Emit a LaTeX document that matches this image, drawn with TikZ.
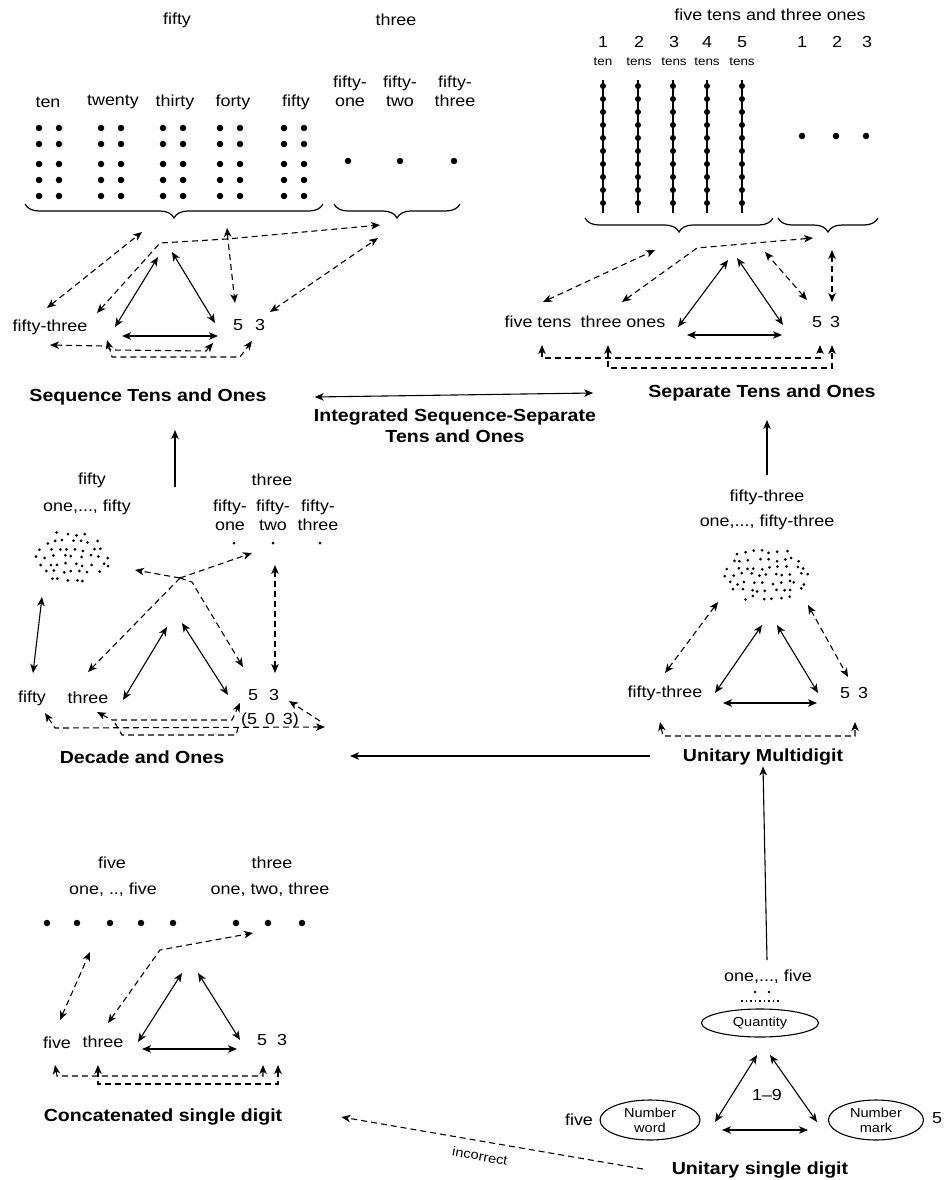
\documentclass[tikz,border=0pt]{standalone}
\usepackage{fontspec}
\setmainfont{Liberation Sans}[FakeStretch=1.12]
\usetikzlibrary{arrows.meta,decorations.pathreplacing,shapes.geometric}
\begin{document}
\begin{tikzpicture}[x=1pt,y=-1pt,
  >={Stealth[length=9pt,width=7.5pt,inset=2.5pt]},
  txt/.style={font=\fontsize{16}{19}\selectfont, inner sep=1pt, align=center},
  sm/.style={font=\fontsize{12}{14}\selectfont, inner sep=1pt},
  ell/.style={draw, ellipse, line width=1.1pt, font=\fontsize{13}{15}\selectfont, align=center, inner sep=0pt},
  ttl/.style={font=\bfseries\fontsize{17.5}{21}\selectfont, inner sep=1pt, align=center},
  sol/.style={line width=1.1pt},
  dsh/.style={line width=1.1pt, dash pattern=on 6pt off 4pt},
  brc/.style={line width=1.2pt, decorate, decoration={brace, amplitude=14pt}},
  bigdot/.style={circle, fill, inner sep=0pt, minimum size=6.5pt},
  tinydot/.style={circle, fill, inner sep=0pt, minimum size=3pt}]
\useasboundingbox (0,0) rectangle (947,1180);

%================ Sequence Tens and Ones =================
\node[txt] (sqfifty) at (177,20) {fifty};
\node[txt] (sqthree) at (396,20) {three};
\node[txt] (sqten) at (48,102) {ten};
\node[txt] (sqtwenty) at (113,102) {twenty};
\node[txt] (sqthirty) at (175,102) {thirty};
\node[txt] (sqforty) at (233,102) {forty};
\node[txt] (sqfiftyb) at (296,102) {fifty};
\node[txt] (sqfo) at (350,91) {fifty-\\one};
\node[txt] (sqft) at (400,91) {fifty-\\two};
\node[txt] (sqfth) at (455,91) {fifty-\\three};
\foreach \gx in {39,101,163,220,284}{
  \foreach \gy in {128,144,164,180,196}{
    \node[bigdot] at (\gx,\gy) {};
    \node[bigdot] at (\gx+20,\gy) {};
  }}
\foreach \gx in {348,400,454}{\node[bigdot] at (\gx,161) {};}
\draw[brc] (323,204) -- (25,204);
\draw[brc] (460,204) -- (334,204);

\node[txt] (sq53) at (50,327) {fifty-three};
\node[txt] (sq5) at (238,325) {5};
\node[txt] (sq3) at (260,325) {3};
\coordinate (sqtA) at (158,257); \coordinate (sqtL) at (115,327);
\coordinate (sqtB) at (172,252); \coordinate (sqtR) at (215,323);
\coordinate (sqbL) at (122,336); \coordinate (sqbR) at (218,336);
\draw[sol,<->] (sqtA) -- (sqtL);
\draw[sol,<->] (sqtB) -- (sqtR);
\draw[sol,<->] (sqbL) -- (sqbR);

\draw[dsh,<->] (47,308) -- (142,232);
\draw[dsh,<->] (97,313) -- (160,243) -- (227,239) -- (380,225);
\draw[dsh,<->] (227,228) -- (228,240) -- (235,303);
\draw[dsh,<->] (270,312) -- (378,238);
\draw[dsh,<->] (50,345) -- (104,346) -- (112,350) -- (206,351) -- (213,343);
\draw[dsh,<->] (107,340) -- (112,357) -- (240,357) -- (252,341);

\node[ttl] (seqT) at (148,397) {Sequence Tens and Ones};

%================ Separate Tens and Ones =================
\node[txt] (sptitle) at (770,15) {five tens and three ones};
\foreach \n/\gx in {1/603,2/639,3/674,4/707,5/742}{\node[txt] at (\gx,42) {\n};}
\foreach \n/\gx in {1/802,2/837,3/867}{\node[txt] at (\gx,42) {\n};}
\node[sm] at (603,62) {ten};
\foreach \gx in {639,674,707,742}{\node[sm] at (\gx,62) {tens};}
\foreach \gx in {603,638,673,707,742}{
  \draw[line width=2pt] (\gx,80) -- (\gx,213);
  \foreach \i in {0,...,9}{\node[bigdot, minimum size=6pt] at (\gx,{86+13*\i}) {};}
}
\foreach \gx in {802,836,866}{\node[bigdot] at (\gx,136) {};}
\draw[brc] (773,218) -- (585,218);
\draw[brc] (878,218) -- (778,218);

\node[txt] (spft) at (538,322) {five tens};
\node[txt] (spto) at (623,322) {three ones};
\node[txt] (sp5) at (817,322) {5};
\node[txt] (sp3) at (835,322) {3};
\coordinate (sptA) at (728,260); \coordinate (sptL) at (678,327);
\coordinate (sptB) at (737,258); \coordinate (sptR) at (783,325);
\coordinate (spbL) at (687,335); \coordinate (spbR) at (782,335);
\draw[sol,<->] (sptA) -- (sptL);
\draw[sol,<->] (sptB) -- (sptR);
\draw[sol,<->] (spbL) -- (spbR);

\draw[dsh,<->] (543,302) -- (655,250);
\draw[dsh,<->] (622,302) -- (697,248) -- (813,238);
\draw[dsh,<->] (807,300) -- (765,252);
\draw[dsh,<->] (832,250) -- (832,302);
\draw[dsh,<->] (542,345) -- (542,358) -- (820,358) -- (820,345);
\draw[dsh,<->] (608,345) -- (608,368) -- (832,368) -- (832,345);

\node[ttl] (sepT) at (762,393) {Separate Tens and Ones};
\node[ttl] (intT) at (455,426) {Integrated Sequence-Separate\\Tens and Ones};
\draw[sol,<->] ([xshift=47pt]seqT.east) -- ([xshift=-54pt]sepT.west);

%================ Decade and Ones =================
\node[txt] (dcfifty) at (92,480) {fifty};
\node[txt] (dcone) at (87,507) {one,..., fifty};
\node[txt] (dcthree) at (272,480) {three};
\node[txt] (dcfo) at (230,515) {fifty-\\one};
\node[txt] (dcft) at (273,515) {fifty-\\two};
\node[txt] (dcfth) at (318,515) {fifty-\\three};
\foreach \gx in {234,273,320}{\node[tinydot] at (\gx,543) {};}
\pgfmathsetseed{11}
\foreach \i in {-4,...,4}{\foreach \j in {-3,...,3}{
  \pgfmathsetmacro\px{\i*8.6+(rnd-0.5)*5+mod(abs(\j),2)*4}
  \pgfmathsetmacro\py{\j*7.6+(rnd-0.5)*4}
  \pgfmathtruncatemacro\ins{((\px/39)^2+(\py/27)^2<1) ? 1 : 0}
  \ifnum\ins=1 \fill ({72+\px},{557+\py}) circle (1.5pt); \fi
}}

\node[txt] (dcw50) at (32,698) {fifty};
\node[txt] (dcw3) at (88,698) {three};
\node[txt] (dc5) at (253,695) {5};
\node[txt] (dc3) at (274,695) {3};
\node[txt] (dc503) at (270,720) {(5\,\,\,0\,\,\,3)};
\draw[sol,<->] (42,597) -- (33,673);
\coordinate (dctA) at (167,627); \coordinate (dctL) at (123,700);
\coordinate (dctB) at (182,623); \coordinate (dctR) at (228,695);
\draw[sol,<->] (dctA) -- (dctL);
\draw[sol,<->] (dctB) -- (dctR);

\coordinate (dcfork) at (180,578);
\draw[dsh,->] (dcfork) -- (135,570);
\draw[dsh,->] (dcfork) -- (252,553);
\draw[dsh,->] (dcfork) -- (88,672);
\draw[dsh,->] (dcfork) -- (192,582) -- (243,667);
\draw[dsh,<->] (275,565) -- (275,673);
\draw[dsh,<->] (45,713) -- (55,728) -- (325,727);
\draw[dsh,->] (320,721) -- (289,701);
\draw[dsh,<->] (97,712) -- (112,720) -- (232,720) -- (240,703);
\draw[dsh] (115,723) -- (122,735) -- (236,735) -- (238,728);

\node[ttl] (decT) at (142,757) {Decade and Ones};
\draw[sol,->] (175,487) -- (175,430);

%================ Unitary Multidigit =================
\node[txt] (um53) at (767,497) {fifty-three};
\node[txt] (umone) at (767,522) {one,..., fifty-three};
\pgfmathsetseed{23}
\foreach \i in {-5,...,5}{\foreach \j in {-3,...,3}{
  \pgfmathsetmacro\px{\i*8.4+(rnd-0.5)*5+mod(abs(\j),2)*4}
  \pgfmathsetmacro\py{\j*7.6+(rnd-0.5)*4}
  \pgfmathtruncatemacro\ins{((\px/45)^2+(\py/28)^2<1) ? 1 : 0}
  \ifnum\ins=1 \fill ({767+\px},{575+\py}) circle (1.5pt); \fi
}}
\node[txt] (umw) at (665,693) {fifty-three};
\node[txt] (um5) at (845,693) {5};
\node[txt] (um3) at (863,693) {3};
\draw[dsh,<->] (718,602) -- (665,673);
\draw[dsh,<->] (808,605) -- (848,677);
\coordinate (umtA) at (762,625); \coordinate (umtL) at (715,693);
\coordinate (umtB) at (777,625); \coordinate (umtR) at (818,693);
\coordinate (umbL) at (723,703); \coordinate (umbR) at (817,703);
\draw[sol,<->] (umtA) -- (umtL);
\draw[sol,<->] (umtB) -- (umtR);
\draw[sol,<->] (umbL) -- (umbR);
\draw[dsh,<->] (660,722) -- (663,736) -- (855,736) -- (855,722);
\node[ttl] (umT) at (763,757) {Unitary Multidigit};
\draw[sol,->] (650,756) -- (350,756);
\draw[sol,->] (767,475) -- (767,420);

%================ Concatenated single digit =================
\node[txt] (cfive) at (112,863) {five};
\node[txt] (cthree) at (272,863) {three};
\node[txt] (cone5) at (113,890) {one, .., five};
\node[txt] (cone3) at (270,890) {one, two, three};
\foreach \gx in {47,77,110,141,173,236,268,302}{\node[bigdot] at (\gx,923) {};}
\node[txt] (cw5) at (57,1043) {five};
\node[txt] (cw3) at (103,1042) {three};
\node[txt] (cd5) at (262,1040) {5};
\node[txt] (cd3) at (282,1040) {3};
\coordinate (ctA) at (182,973); \coordinate (ctL) at (138,1042);
\coordinate (ctB) at (198,973); \coordinate (ctR) at (240,1040);
\coordinate (cbL) at (142,1049); \coordinate (cbR) at (237,1049);
\draw[sol,<->] (ctA) -- (ctL);
\draw[sol,<->] (ctB) -- (ctR);
\draw[sol,<->] (cbL) -- (cbR);
\draw[dsh,<->] (60,1020) -- (90,952);
\draw[dsh,<->] (108,1023) -- (160,950) -- (253,933);
\draw[dsh,<->] (55,1065) -- (57,1076) -- (263,1076) -- (263,1065);
\draw[dsh,<->] (98,1065) -- (98,1084) -- (278,1084) -- (278,1065);
\node[ttl] (concT) at (163,1117) {Concatenated single digit};

%================ Unitary single digit =================
\node[txt] (usone) at (768,977) {one,..., five};
\foreach \gx in {755,769}{\fill (\gx,992) circle (1.3pt);}
\draw[line width=1.1pt, dash pattern=on 1.5pt off 3pt] (741,1001) -- (779,1001);
\node[ell, minimum width=117pt, minimum height=28pt] (quant) at (760,1023) {Quantity};
\node[ell, minimum width=100pt, minimum height=40pt] (nword) at (650,1120) {Number\\word};
\node[ell, minimum width=95pt, minimum height=40pt] (nmark) at (876,1120) {Number\\mark};
\node[txt] (usfive) at (579,1120) {five};
\node[txt] (us5) at (937,1118) {5};
\node[txt] (us19) at (767,1095) {1--9};
\coordinate (ustA) at (757,1055); \coordinate (ustL) at (715,1122);
\coordinate (ustB) at (770,1055); \coordinate (ustR) at (817,1122);
\coordinate (usbL) at (722,1130); \coordinate (usbR) at (808,1130);
\draw[sol,<->] (ustA) -- (ustL);
\draw[sol,<->] (ustB) -- (ustR);
\draw[sol,<->] (usbL) -- (usbR);
\node[ttl] (usT) at (760,1170) {Unitary single digit};
\draw[sol,->] (767,960) -- (umT.south);
\draw[dsh,->] (643,1169) -- ([xshift=58pt]concT.east);
\node[font=\fontsize{13}{15}\selectfont, rotate=-10] (incor) at (480,1156) {incorrect};
\end{tikzpicture}
\end{document}
